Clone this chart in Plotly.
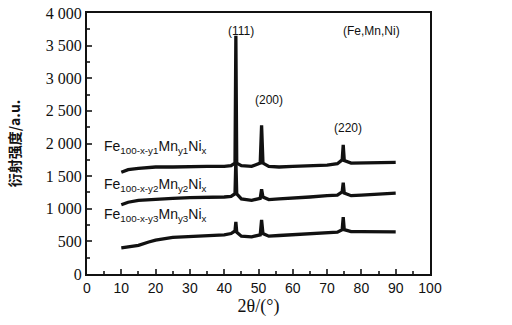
import plotly.graph_objects as go

two_theta = [10, 12, 15, 18, 20, 25, 30, 35, 40, 42, 43.15, 43.4, 43.65, 45, 48,
             50.5, 50.9, 51.3, 53, 56, 60, 65, 70, 73, 74.4, 74.7, 75.0, 77, 80, 85, 90]
sample1 = [1560, 1600, 1620, 1630, 1640, 1640, 1650, 1650, 1650, 1660, 1700, 3650, 1700, 1660, 1650,
           1700, 2280, 1700, 1650, 1640, 1650, 1660, 1670, 1690, 1750, 1980, 1740, 1700, 1700, 1700, 1710]
sample2 = [1060, 1100, 1130, 1140, 1150, 1160, 1170, 1170, 1180, 1190, 1230, 1750, 1230, 1150, 1130,
           1160, 1300, 1180, 1140, 1150, 1160, 1180, 1200, 1210, 1260, 1400, 1240, 1200, 1210, 1220, 1240]
sample3 = [400, 420, 440, 490, 520, 560, 575, 585, 600, 620, 660, 800, 640, 580, 570,
           600, 830, 620, 580, 590, 600, 615, 630, 640, 680, 870, 680, 650, 650, 645, 645]

series_labels = ["Fe<sub>100-x-y1</sub>Mn<sub>y1</sub>Ni<sub>x</sub>",
                 "Fe<sub>100-x-y2</sub>Mn<sub>y2</sub>Ni<sub>x</sub>",
                 "Fe<sub>100-x-y3</sub>Mn<sub>y3</sub>Ni<sub>x</sub>"]
label_y = [1950, 1360, 900]
peak_labels = ["(111)", "(200)", "(220)", "(Fe,Mn,Ni)"]
peak_label_x = [44.8, 53.0, 76.0, 83.0]
peak_label_y = [3730, 2670, 2230, 3730]

y_ticks = [0, 500, 1000, 1500, 2000, 2500, 3000, 3500, 4000]
y_ticktext = ["0", "500", "1 000", "1 500", "2 000", "2 500", "3 000", "3 500", "4 000"]
x_ticks = [0, 10, 20, 30, 40, 50, 60, 70, 80, 90, 100]

SERIF = "Liberation Serif, Times New Roman, serif"
SANS = "Liberation Sans, Arial, sans-serif"

fig = go.Figure()
for ys in [sample1, sample2, sample3]:
    fig.add_trace(go.Scatter(x=two_theta, y=ys, mode="lines",
                             line=dict(color="#111111", width=3.3), showlegend=False))

for t, yy in zip(series_labels, label_y):
    fig.add_annotation(x=4.3, y=yy, xref="x", yref="y", text=t, showarrow=False,
                       xanchor="left", font=dict(family=SANS, size=14, color="#111"))
for t, xx, yy in zip(peak_labels, peak_label_x, peak_label_y):
    fig.add_annotation(x=xx, y=yy, text=t, showarrow=False,
                       font=dict(family=SANS, size=12, color="#111"))

fig.update_layout(
    width=512, height=325, margin=dict(l=87, r=82, t=13, b=51),
    paper_bgcolor="white", plot_bgcolor="white",
    xaxis=dict(range=[0, 100], tickvals=x_ticks, ticks="inside", ticklen=5, tickwidth=1.5,
               minor=dict(ticks="inside", ticklen=3, dtick=5, tick0=0),
               showline=True, linecolor="#111", linewidth=2, mirror=True, showgrid=False,
               zeroline=False, automargin=False, ticklabeloverflow="allow",
               tickfont=dict(family=SANS, size=14, color="#111"),
               title=dict(text="2θ/(°)", font=dict(family=SERIF, size=18, color="#111"),
                          standoff=4)),
    yaxis=dict(range=[0, 4000], tickvals=y_ticks, ticktext=y_ticktext, ticks="inside", ticklen=5,
               tickwidth=1.5, minor=dict(ticks="inside", ticklen=3, dtick=250, tick0=0),
               showline=True, linecolor="#111", linewidth=2, mirror=True, showgrid=False,
               zeroline=False, automargin=False, ticklabeloverflow="allow",
               tickfont=dict(family=SERIF, size=16, color="#111"),
               title=dict(text="<b>衍射强度/a.u.</b>",
                          font=dict(family="Noto Sans CJK SC", size=14, color="#111"), standoff=22)),
)
fig.write_html("out.html", config={"displayModeBar": False},
               post_script="document.body.style.margin='0';")
